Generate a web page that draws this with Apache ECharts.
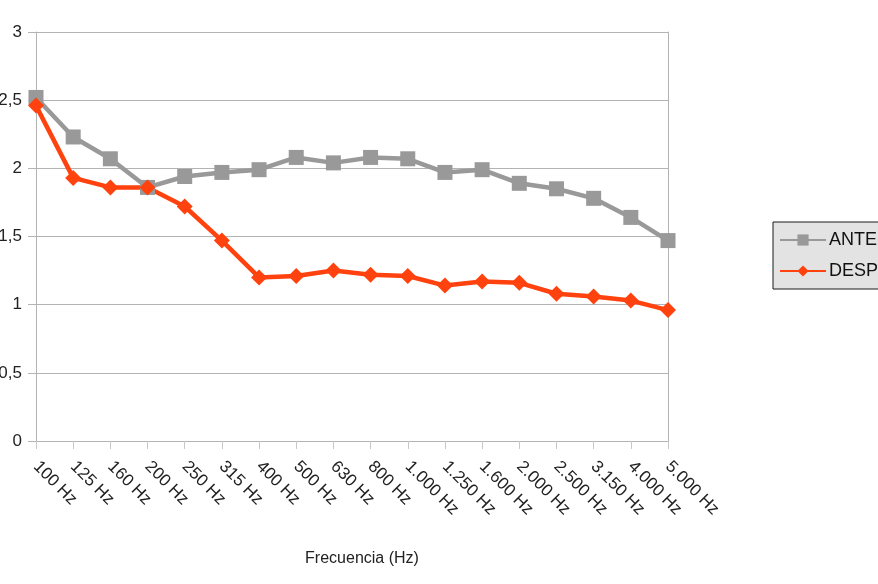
<!DOCTYPE html>
<html>
<head>
<meta charset="utf-8">
<script src="https://cdn.jsdelivr.net/npm/echarts@6/dist/echarts.min.js"></script>
<style>html,body{margin:0;padding:0;background:#fff;}#c{width:878px;height:584px;}</style>
</head>
<body>
<div id="c"></div>
<script>
const categories = ['100 Hz','125 Hz','160 Hz','200 Hz','250 Hz','315 Hz','400 Hz','500 Hz','630 Hz','800 Hz','1.000 Hz','1.250 Hz','1.600 Hz','2.000 Hz','2.500 Hz','3.150 Hz','4.000 Hz','5.000 Hz'];
const antes   = [2.52,2.23,2.07,1.86,1.94,1.97,1.99,2.08,2.04,2.08,2.07,1.97,1.99,1.89,1.85,1.78,1.64,1.47];
const despues = [2.46,1.93,1.86,1.86,1.72,1.47,1.20,1.21,1.25,1.22,1.21,1.14,1.17,1.16,1.08,1.06,1.03,0.96];
const yTicks = [0,0.5,1,1.5,2,2.5,3];

const chart = echarts.init(document.getElementById('c'));
const font = 'Liberation Sans, Arial, sans-serif';
chart.setOption({
  animation: false,
  textStyle: {fontFamily: font},
  grid: {left: 36, right: 210, top: 32, bottom: 143, containLabel: false, outerBoundsMode: 'none'},
  legend: {
    orient: 'vertical', left: 773, top: 222,
    backgroundColor: '#e3e3e3', borderColor: '#1a1a1a', borderWidth: 1,
    padding: [9, 40, 9, 6], itemGap: 13, itemWidth: 46, itemHeight: 14,
    textStyle: {fontSize: 18, color: '#111', fontFamily: font, padding: [0,0,0,-2]},
    data: ['ANTES', 'DESPUÉS']
  },
  xAxis: {
    type: 'category', data: categories, boundaryGap: false,
    axisLine: {show: false},
    axisTick: {show: true, length: 8, lineStyle: {color: '#c8c8c8'}},
    axisLabel: {rotate: -45, fontSize: 17, color: '#222', margin: 23, interval: 0},
    splitLine: {show: false},
    name: 'Frecuencia (Hz)', nameLocation: 'middle', nameGap: 110,
    nameTextStyle: {fontSize: 16, color: '#222', padding: [0,0,0,20]}
  },
  yAxis: [{
    type: 'value', min: 0, max: 3, interval: 0.5,
    axisLine: {show: true, lineStyle: {color: '#b3b3b3'}},
    axisTick: {show: true, length: 8, lineStyle: {color: '#b3b3b3'}},
    axisLabel: {fontSize: 17, color: '#222', margin: 14,
      formatter: v => yTicks.includes(v) ? String(v).replace('.', ',') : ''},
    splitLine: {show: true, lineStyle: {color: '#b3b3b3'}}
  }, {
    type: 'value', min: 0, max: 3, interval: 0.5, position: 'right',
    axisLine: {show: true, lineStyle: {color: '#b3b3b3'}},
    axisTick: {show: false}, axisLabel: {show: false}, splitLine: {show: false}
  }],
  series: [{
    name: 'ANTES', type: 'line', data: antes,
    symbol: 'rect', symbolSize: 15,
    lineStyle: {color: '#999999', width: 4.5},
    itemStyle: {color: '#999999'}
  }, {
    name: 'DESPUÉS', type: 'line', data: despues,
    symbol: 'diamond', symbolSize: 16,
    lineStyle: {color: '#ff420e', width: 4.5},
    itemStyle: {color: '#ff420e'}
  }]
});
</script>
</body>
</html>
